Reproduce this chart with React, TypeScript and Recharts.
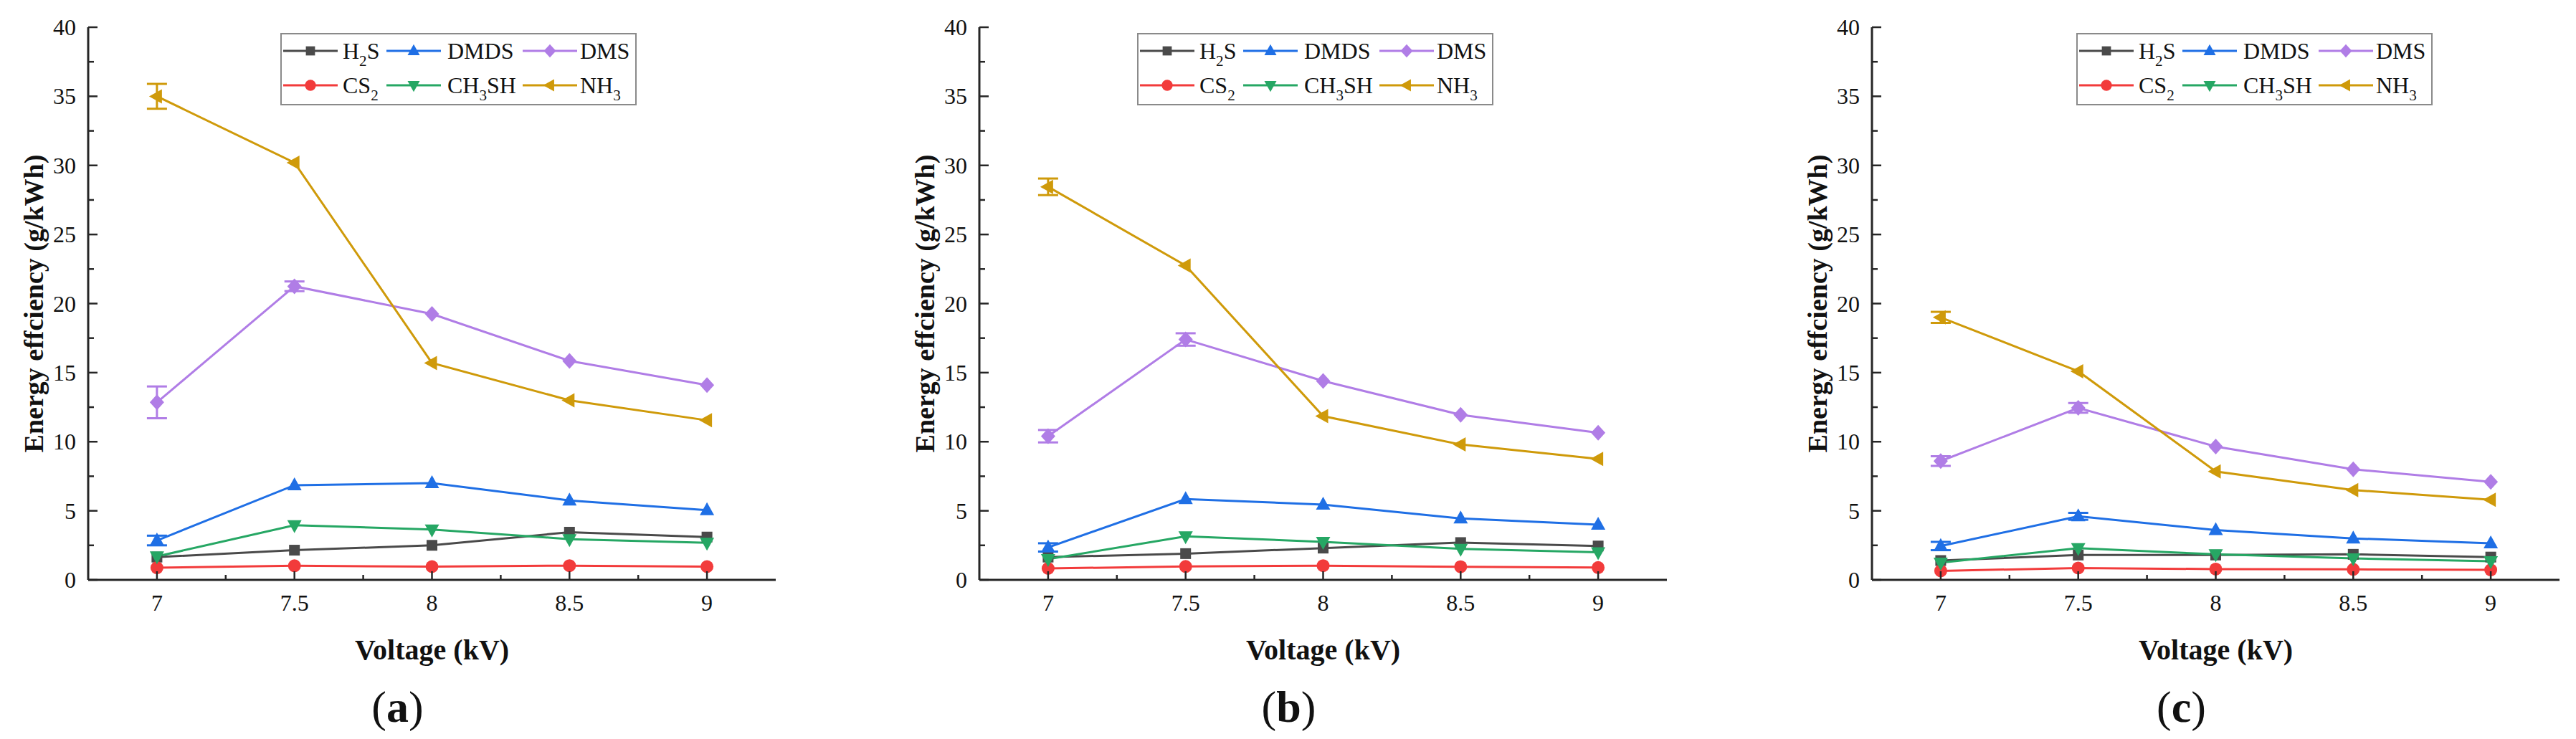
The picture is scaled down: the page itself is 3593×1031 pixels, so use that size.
import React from "react";
import { LineChart, Line, XAxis, YAxis, ErrorBar, Legend } from "recharts";

// voltages (kV) and axis ticks
const voltages = [7, 7.5, 8, 8.5, 9];
const xMajor = [7, 7.5, 8, 8.5, 9];
const xMinor = [7.25, 7.75, 8.25, 8.75];
const yMajor = [0, 5, 10, 15, 20, 25, 30, 35, 40];
const yMinor = [2.5, 7.5, 12.5, 17.5, 22.5, 27.5, 32.5, 37.5];

// panel (a)
const h2sA = [1.65, 2.15, 2.5, 3.45, 3.1];
const dmdsA = [2.85, 6.85, 7.0, 5.75, 5.05];
const dmsA = [12.85, 21.25, 19.25, 15.85, 14.1];
const cs2A = [0.88, 1.02, 0.96, 1.03, 0.96];
const ch3shA = [1.7, 3.95, 3.65, 2.95, 2.68];
const nh3A = [35.0, 30.2, 15.7, 13.0, 11.55];
const dmsErrA = [1.15, 0.35, 0, 0, 0];
const nh3ErrA = [0.9, 0, 0, 0, 0];
const dmdsErrA = [0.35, 0, 0, 0, 0];

// panel (b)
const h2sB = [1.65, 1.9, 2.3, 2.7, 2.45];
const dmdsB = [2.35, 5.85, 5.45, 4.45, 4.0];
const dmsB = [10.4, 17.4, 14.4, 11.95, 10.65];
const cs2B = [0.83, 0.97, 1.03, 0.95, 0.89];
const ch3shB = [1.5, 3.15, 2.75, 2.25, 2.0];
const nh3B = [28.45, 22.75, 11.85, 9.8, 8.75];
const dmsErrB = [0.45, 0.45, 0, 0, 0];
const nh3ErrB = [0.6, 0, 0, 0, 0];
const dmdsErrB = [0.3, 0, 0, 0, 0];

// panel (c)
const h2sC = [1.4, 1.8, 1.8, 1.85, 1.65];
const dmdsC = [2.45, 4.6, 3.6, 3.0, 2.65];
const dmsC = [8.6, 12.45, 9.65, 8.0, 7.1];
const cs2C = [0.65, 0.86, 0.78, 0.76, 0.72];
const ch3shC = [1.25, 2.3, 1.85, 1.55, 1.35];
const nh3C = [19.0, 15.1, 7.85, 6.5, 5.8];
const dmsErrC = [0.35, 0.35, 0, 0, 0];
const nh3ErrC = [0.4, 0, 0, 0, 0];
const dmdsErrC = [0.3, 0.25, 0, 0, 0];

const FONT = '"Liberation Serif", "Times New Roman", serif';
const AXIS = "#262626";

type Shape = "square" | "up" | "diamond" | "circle" | "down" | "left";

const SERIES: { key: string; color: string; shape: Shape; label: string[] }[] = [
  { key: "h2s", color: "#4a4a4a", shape: "square", label: ["H", "2", "S"] },
  { key: "dmds", color: "#1f6fe5", shape: "up", label: ["DMDS"] },
  { key: "dms", color: "#b07de6", shape: "diamond", label: ["DMS"] },
  { key: "cs2", color: "#f23b3b", shape: "circle", label: ["CS", "2"] },
  { key: "ch3sh", color: "#26a764", shape: "down", label: ["CH", "3", "SH"] },
  { key: "nh3", color: "#cf9a0a", shape: "left", label: ["NH", "3"] },
];

function buildRows(cols: Record<string, number[]>) {
  return voltages.map((v, i) => {
    const row: Record<string, number> = { v };
    Object.keys(cols).forEach((k) => (row[k] = cols[k][i]));
    return row;
  });
}

const panels = [
  {
    tag: "a",
    chartLeft: 0,
    legendLeft: 391,
    data: buildRows({
      h2s: h2sA, dmds: dmdsA, dms: dmsA, cs2: cs2A, ch3sh: ch3shA, nh3: nh3A,
      dmsErr: dmsErrA, nh3Err: nh3ErrA, dmdsErr: dmdsErrA,
    }),
  },
  {
    tag: "b",
    chartLeft: 1243,
    legendLeft: 343,
    data: buildRows({
      h2s: h2sB, dmds: dmdsB, dms: dmsB, cs2: cs2B, ch3sh: ch3shB, nh3: nh3B,
      dmsErr: dmsErrB, nh3Err: nh3ErrB, dmdsErr: dmdsErrB,
    }),
  },
  {
    tag: "c",
    chartLeft: 2488,
    legendLeft: 408,
    data: buildRows({
      h2s: h2sC, dmds: dmdsC, dms: dmsC, cs2: cs2C, ch3sh: ch3shC, nh3: nh3C,
      dmsErr: dmsErrC, nh3Err: nh3ErrC, dmdsErr: dmdsErrC,
    }),
  },
];

function Marker({ cx, cy, shape, color, s = 1 }: any) {
  if (cx == null || cy == null) return null;
  const a = 11 * s;
  const b = 10 * s;
  const c = 7 * s;
  switch (shape) {
    case "square":
      return <rect x={cx - 7.5 * s} y={cy - 7.5 * s} width={15 * s} height={15 * s} fill={color} />;
    case "circle":
      return <circle cx={cx} cy={cy} r={9 * s} fill={color} />;
    case "up":
      return <polygon points={`${cx},${cy - a} ${cx + b},${cy + c} ${cx - b},${cy + c}`} fill={color} />;
    case "down":
      return <polygon points={`${cx},${cy + a} ${cx + b},${cy - c} ${cx - b},${cy - c}`} fill={color} />;
    case "left":
      return <polygon points={`${cx - a},${cy} ${cx + c},${cy - b} ${cx + c},${cy + b}`} fill={color} />;
    default:
      return <polygon points={`${cx},${cy - a} ${cx + b},${cy} ${cx},${cy + a} ${cx - b},${cy}`} fill={color} />;
  }
}

function SubText({ parts, x, y, size }: { parts: string[]; x: number; y: number; size: number }) {
  return (
    <text x={x} y={y} fontFamily={FONT} fontSize={size} fill="#111">
      {parts.map((p, i) =>
        i % 2 === 1 ? (
          <tspan key={i} fontSize={size * 0.66} dy={size * 0.3}>
            {p}
          </tspan>
        ) : (
          <tspan key={i} dy={i > 0 ? -size * 0.3 : 0}>
            {p}
          </tspan>
        )
      )}
    </text>
  );
}

// legend box: 3 columns x 2 rows
const LEG_W = 497;
const LEG_H = 101;
const legCols = [4, 148, 338];
const legTextX = [87, 233, 418];
const legRows = [25, 73];

function LegendBox() {
  return (
    <svg width={LEG_W} height={LEG_H} style={{ display: "block" }}>
      <rect x={1} y={1} width={LEG_W - 2} height={LEG_H - 2} fill="#fff" stroke="#8a8a8a" strokeWidth={2} />
      {SERIES.map((s, i) => {
        const col = i % 3;
        const row = Math.floor(i / 3);
        const x0 = legCols[col];
        const y0 = legRows[row];
        return (
          <g key={s.key}>
            <line x1={x0} x2={x0 + 76} y1={y0} y2={y0} stroke={s.color} strokeWidth={3} />
            <Marker cx={x0 + 38} cy={y0} shape={s.shape} color={s.color} s={0.85} />
            <SubText parts={s.label} x={legTextX[col]} y={y0 + 11} size={32} />
          </g>
        );
      })}
    </svg>
  );
}

function XTick({ x, y, payload }: any) {
  const v = payload.value;
  const major = xMajor.includes(v);
  return (
    <g>
      <line x1={x} x2={x} y1={y} y2={y - (major ? 12 : 7)} stroke={AXIS} strokeWidth={2.5} />
      {major && (
        <text x={x} y={y + 43} textAnchor="middle" fontFamily={FONT} fontSize={32} fill="#111">
          {v}
        </text>
      )}
    </g>
  );
}

function YTick({ x, y, payload }: any) {
  const v = payload.value;
  const major = yMajor.includes(v);
  return (
    <g>
      <line x1={x} x2={x + (major ? 13 : 8)} y1={y} y2={y} stroke={AXIS} strokeWidth={2.5} />
      {major && (
        <text x={x - 17} y={y + 11} textAnchor="end" fontFamily={FONT} fontSize={32} fill="#111">
          {v}
        </text>
      )}
    </g>
  );
}

function XTitle({ viewBox, tag }: any) {
  const vb = viewBox || { x: 123, y: 809, width: 959 };
  const cx = vb.x + vb.width / 2;
  return (
    <g>
      <text x={cx} y={vb.y + 111} textAnchor="middle" fontFamily={FONT} fontWeight="bold" fontSize={40} fill="#111">
        Voltage (kV)
      </text>
      <text x={cx - 48} y={vb.y + 198} textAnchor="middle" fontFamily={FONT} fontSize={62} fill="#111">
        (<tspan fontWeight="bold">{tag}</tspan>)
      </text>
    </g>
  );
}

function YTitle({ viewBox }: any) {
  const vb = viewBox || { x: 0, y: 38, width: 123, height: 771 };
  const cx = vb.x + vb.width - 76;
  const cy = vb.y + vb.height / 2;
  return (
    <text
      x={cx}
      y={cy}
      transform={`rotate(-90, ${cx}, ${cy})`}
      textAnchor="middle"
      dominantBaseline="central"
      fontFamily={FONT}
      fontWeight="bold"
      fontSize={38}
      fill="#111"
    >
      Energy effciency (g/kWh)
    </text>
  );
}

function Panel({ panel }: { panel: (typeof panels)[number] }) {
  const axisLine = { stroke: AXIS, strokeWidth: 3 };
  const errKeys: Record<string, string> = { dms: "dmsErr", nh3: "nh3Err", dmds: "dmdsErr" };
  return (
    <div style={{ position: "absolute", left: panel.chartLeft, top: 0 }}>
      <LineChart width={1102} height={1031} data={panel.data} margin={{ top: 38, right: 20, bottom: 0, left: 0 }}>
        <XAxis
          dataKey="v"
          type="number"
          domain={[6.75, 9.25]}
          ticks={[...xMajor, ...xMinor].sort((p, q) => p - q)}
          interval={0}
          tickSize={0}
          tickMargin={0}
          tickLine={false}
          tick={<XTick />}
          axisLine={axisLine}
          height={222}
          label={(p: any) => <XTitle {...p} tag={panel.tag} />}
        />
        <XAxis
          xAxisId="top"
          orientation="top"
          type="number"
          domain={[6.75, 9.25]}
          height={0}
          tick={false}
          tickLine={false}
          axisLine={axisLine}
        />
        <YAxis
          type="number"
          domain={[0, 40]}
          ticks={[...yMajor, ...yMinor].sort((p, q) => p - q)}
          interval={0}
          tickSize={0}
          tickMargin={0}
          tickLine={false}
          tick={<YTick />}
          axisLine={axisLine}
          width={123}
          label={(p: any) => <YTitle {...p} />}
        />
        <YAxis
          yAxisId="right"
          orientation="right"
          type="number"
          domain={[0, 40]}
          width={0}
          tick={false}
          tickLine={false}
          axisLine={axisLine}
        />
        <Legend
          verticalAlign="middle"
          align="center"
          content={() => <LegendBox />}
          wrapperStyle={{ left: panel.legendLeft, top: 46, width: LEG_W, height: LEG_H }}
        />
        {SERIES.map((s) => (
          <Line
            key={s.key}
            dataKey={s.key}
            type="linear"
            stroke={s.color}
            strokeWidth={3}
            isAnimationActive={false}
            activeDot={false}
            dot={(p: any) => <Marker key={`${s.key}-${p.index}`} cx={p.cx} cy={p.cy} shape={s.shape} color={s.color} />}
          >
            {errKeys[s.key] && (
              <ErrorBar dataKey={errKeys[s.key]} direction="y" width={14} strokeWidth={3} stroke={s.color} />
            )}
          </Line>
        ))}
      </LineChart>
    </div>
  );
}

export default function App() {
  return (
    <div
      style={{
        position: "absolute",
        left: 0,
        top: 0,
        width: 3593,
        height: 1031,
        background: "#fff",
        overflow: "hidden",
      }}
    >
      {panels.map((p) => (
        <Panel key={p.tag} panel={p} />
      ))}
    </div>
  );
}
